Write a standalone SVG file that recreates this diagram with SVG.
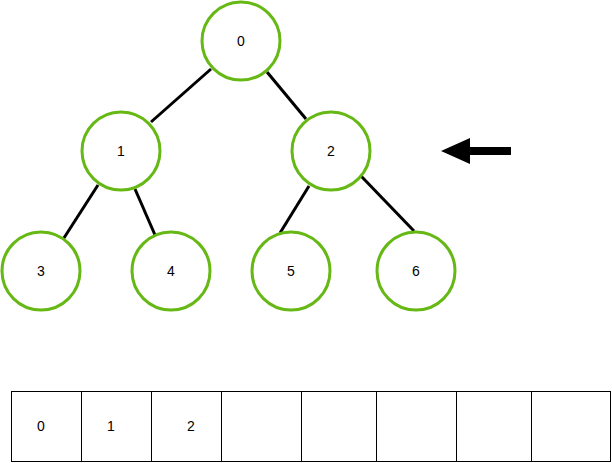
<svg xmlns="http://www.w3.org/2000/svg" width="612" height="463" viewBox="0 0 612 463">
<style>
.n{fill:#fff;stroke:#66b814;stroke-width:3}
.t{font-family:"Liberation Sans",Arial,sans-serif;font-size:14px;fill:#000;text-anchor:middle;dominant-baseline:central}
.e{stroke:#000;stroke-width:3;fill:none}
.c{fill:#fff;stroke:#000;stroke-width:1}
</style>
<rect width="612" height="463" fill="#fff"/>
<g id="connectors">
<line class="e" x1="211" y1="69" x2="151" y2="122"/>
<line class="e" x1="267" y1="72" x2="306" y2="119"/>
<line class="e" x1="98" y1="185" x2="62" y2="241"/>
<line class="e" x1="135" y1="189" x2="155" y2="235"/>
<line class="e" x1="309" y1="186" x2="280" y2="233"/>
<line class="e" x1="361" y1="176" x2="414" y2="231"/>
</g>
<g id="node0"><circle class="n" cx="241" cy="41" r="39"/><text class="t" x="241" y="41">0</text></g>
<g id="node1"><circle class="n" cx="121" cy="151" r="39"/><text class="t" x="121" y="151">1</text></g>
<g id="node2"><circle class="n" cx="331" cy="151" r="39"/><text class="t" x="331" y="151">2</text></g>
<g id="node3"><circle class="n" cx="41" cy="271" r="39"/><text class="t" x="41" y="271">3</text></g>
<g id="node4"><circle class="n" cx="171" cy="271" r="39"/><text class="t" x="171" y="271">4</text></g>
<g id="node5"><circle class="n" cx="291" cy="271" r="39"/><text class="t" x="291" y="271">5</text></g>
<g id="node6"><circle class="n" cx="416" cy="271" r="39"/><text class="t" x="416" y="271">6</text></g>
<g id="arrow"><polygon points="441,151 470,138 470,147 511,147 511,155 470,155 470,164" fill="#000"/></g>
<g id="array">
<rect class="c" x="11.5" y="391.5" width="70" height="70"/>
<rect class="c" x="81.5" y="391.5" width="70" height="70"/>
<rect class="c" x="151.5" y="391.5" width="70" height="70"/>
<rect class="c" x="221.5" y="391.5" width="80" height="70"/>
<rect class="c" x="301.5" y="391.5" width="75" height="70"/>
<rect class="c" x="376.5" y="391.5" width="80" height="70"/>
<rect class="c" x="456.5" y="391.5" width="75" height="70"/>
<rect class="c" x="531.5" y="391.5" width="79" height="70"/>
<text class="t" x="41" y="426">0</text>
<text class="t" x="111" y="426">1</text>
<text class="t" x="191" y="426">2</text>
</g>
</svg>
